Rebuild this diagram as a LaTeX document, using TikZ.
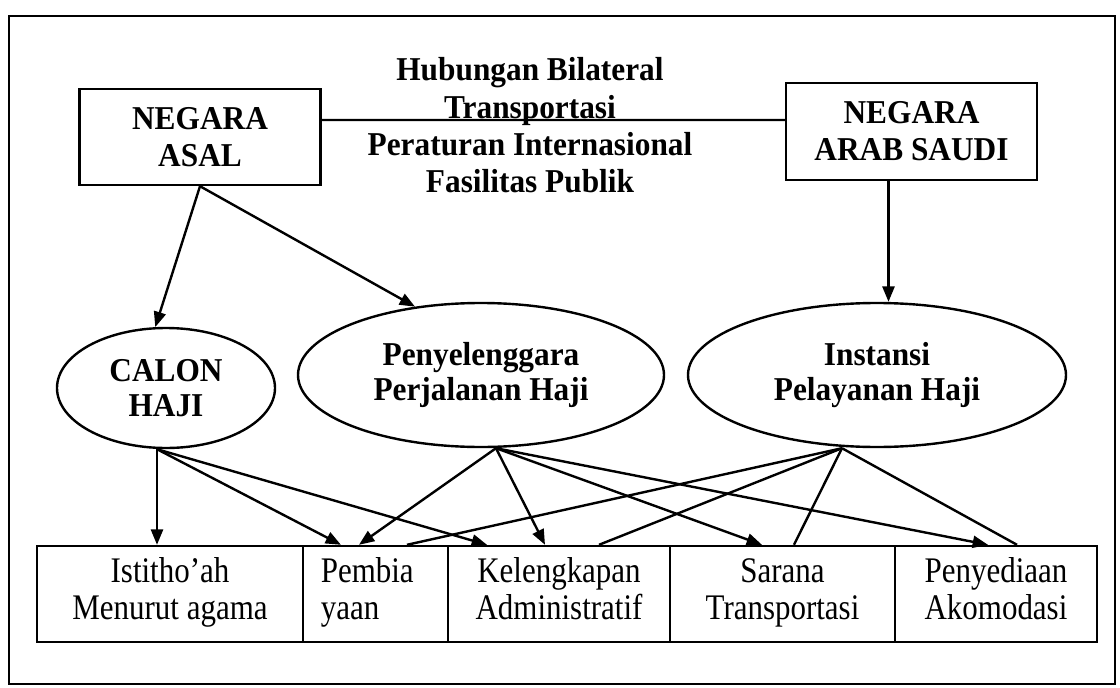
\documentclass[tikz,border=0pt]{standalone}
\usepackage{fontspec}
\setmainfont{Liberation Serif}
\newfontfamily\biasa[FakeStretch=0.86]{Liberation Serif}
\newfontfamily\tebal[FakeStretch=0.94]{Liberation Serif}
\usetikzlibrary{shapes.geometric,arrows.meta}

\begin{document}
\begin{tikzpicture}[x=0.75pt,y=-0.75pt,line width=1.8pt,
        box/.style={draw,rectangle,inner sep=0pt,minimum height=72pt,align=center,font=\biasa\fontsize{27}{27.75}\selectfont},
        head/.style={box,font=\tebal\bfseries\fontsize{25}{27.75}\selectfont},
        oval/.style={draw,ellipse,inner sep=0pt,minimum height=108pt,align=center,font=\tebal\bfseries\fontsize{25}{26.5}\selectfont},
        arr/.style={-{Triangle[length=11.5pt,width=9pt]}}]
        \useasboundingbox (0,0) rectangle (1120,688);
        \draw[line width=2.2pt] (9,16) rectangle (1115,684);

        % negara
        \node[head,minimum width=180.75pt] (asal) at (200,137) {NEGARA\\ASAL};
        \node[head,minimum width=188.25pt,minimum height=72.75pt] (saudi) at (911.5,131.5) {NEGARA\\ARAB SAUDI};
        \node[align=center,font=\tebal\bfseries\fontsize{25}{28}\selectfont] (relasi) at (530,125.5) {Hubungan Bilateral\\Transportasi\\Peraturan Internasional\\Fasilitas Publik};
        \draw ([yshift=12.75pt]asal.east) -- ([yshift=8.6pt]saudi.west);

        % pelaku
        \node[oval,minimum width=163.5pt,minimum height=90pt] (calon) at (166,388) {CALON\\HAJI};
        \node[oval,minimum width=274.5pt] (penyelenggara) at (481,375) {Penyelenggara\\Perjalanan Haji};
        \node[oval,minimum width=283.5pt] (instansi) at (877,375) {Instansi\\Pelayanan Haji};
        \draw[arr] (asal.south) -- (calon.100);
        \draw[arr] (asal.south) -- (penyelenggara.134);
        \draw[arr] ([xshift=-17.25pt]saudi.south) -- ([xshift=-17.25pt]saudi.south |- instansi.north);

        % aspek
        \node[box,minimum width=199.5pt] (istithoah) at (170,594) {\strut Istitho’ah\\\strut Menurut agama};
        \node[box,minimum width=108.75pt,text width=82pt,align=left] (pembiayaan) at (375.5,594) {\strut Pembia\\\strut yaan};
        \node[box,minimum width=166.5pt] (kelengkapan) at (559,594) {\strut Kelengkapan\\\strut Administratif};
        \node[box,minimum width=168.75pt] (sarana) at (782.5,594) {\strut Sarana\\\strut Transportasi};
        \node[box,minimum width=151.5pt] (penyediaan) at (996,594) {\strut Penyediaan\\\strut Akomodasi};

        \coordinate (calonbawah) at ([xshift=-6.75pt]calon.south);
        \coordinate (penyelenggarabawah) at ([xshift=11.25pt]penyelenggara.south);
        \coordinate (instansibawah) at ([xshift=-26.25pt]instansi.south);
        \draw[arr] (calonbawah) -- (calonbawah |- istithoah.north);
        \foreach \t/\s in {pembiayaan/-25.9pt,kelengkapan/-54pt}{\draw[arr] (calonbawah) -- ([xshift=\s]\t.north);}
        \foreach \t/\s in {pembiayaan/-12.4pt,kelengkapan/-10.5pt,sarana/-15.4pt,penyediaan/-6pt}{\draw[arr] (penyelenggarabawah) -- ([xshift=\s]\t.north);}
        \foreach \t/\s in {pembiayaan/23.6pt,kelengkapan/30pt,sarana/8.6pt,penyediaan/15.75pt}{\draw (instansibawah) -- ([xshift=\s]\t.north);}
\end{tikzpicture}
\end{document}
